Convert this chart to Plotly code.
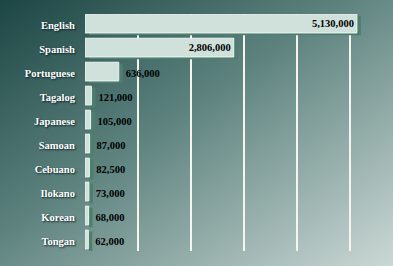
import plotly.graph_objects as go
import base64

languages = ["English", "Spanish", "Portuguese", "Tagalog", "Japanese",
             "Samoan", "Cebuano", "Ilokano", "Korean", "Tongan"]
speakers = [5130000, 2806000, 636000, 121000, 105000,
            87000, 82500, 73000, 68000, 62000]
labels = ["5,130,000", "2,806,000", "636,000", "121,000", "105,000",
          "87,000", "82,500", "73,000", "68,000", "62,000"]
label_inside = [True, True, False, False, False,
                False, False, False, False, False]

W, H = 393, 266
L, R, T, B = 85, 0, 14, 15
pw, ph = W - L - R, H - T - B
px_per_unit = 53 / 1e6          # horizontal scale: 53 px per million
depth = 4 / px_per_unit         # 3D bevel depth (styling), in data units

svg = f'''<svg xmlns="http://www.w3.org/2000/svg" width="{W}" height="{H}" viewBox="0 0 {W} {H}" preserveAspectRatio="none">
<defs><linearGradient id="g" x1="0" y1="0" x2="1" y2="1">
<stop offset="0" stop-color="#1c4644"/>
<stop offset="0.45" stop-color="#5f8480"/>
<stop offset="1" stop-color="#cbd8d5"/>
</linearGradient></defs>
<rect width="{W}" height="{H}" fill="url(#g)"/></svg>'''
bg_uri = "data:image/svg+xml;base64," + base64.b64encode(svg.encode()).decode()

serif = "Liberation Serif"
value_font = dict(family=serif, size=10.5, color="black", weight="bold")

outside_text = ["" if ins else t for t, ins in zip(labels, label_inside)]
inside_text = [t if ins else "" for t, ins in zip(labels, label_inside)]

fig = go.Figure()
# shadow / side of the 3D bar (carries the outside labels)
fig.add_trace(go.Bar(
    y=languages, x=speakers, base=depth, orientation="h",
    width=0.82, offset=-0.39,
    text=outside_text, textposition="outside", textfont=value_font,
    cliponaxis=False,
    marker=dict(color="#4e7e6e", line=dict(width=0)),
    hoverinfo="skip",
))
# bar face (carries the inside labels)
fig.add_trace(go.Bar(
    y=languages, x=speakers, orientation="h",
    text=inside_text, textposition="inside", insidetextanchor="end",
    textfont=value_font,
    width=0.78, offset=-0.45,
    marker=dict(color="#d0e1db", line=dict(color="#eef5f2", width=1)),
))

fig.update_layout(
    width=W, height=H,
    margin=dict(l=L, r=R, t=T, b=B),
    paper_bgcolor="#4f7774",
    plot_bgcolor="rgba(0,0,0,0)",
    showlegend=False,
    barmode="overlay",
    uniformtext=dict(mode=False),
    images=[dict(source=bg_uri, xref="paper", yref="paper",
                 x=-L / pw, y=1 + T / ph, sizex=W / pw, sizey=H / ph,
                 xanchor="left", yanchor="top", sizing="stretch", layer="below")],
    xaxis=dict(range=[0, (W - L) / px_per_unit], tickvals=[1e6, 2e6, 3e6, 4e6, 5e6],
               showticklabels=False, showgrid=True, gridcolor="#f6f4ee", gridwidth=1.5,
               zeroline=False, showline=False, fixedrange=True),
    yaxis=dict(range=[9.42, -0.46], showgrid=False, zeroline=False, showline=False,
               ticks="outside", ticklen=7, tickcolor="rgba(0,0,0,0)",
               tickfont=dict(family=serif, size=10.5, color="white", weight="bold",
                             shadow="1px 1px 2px #0a2020")),
)

fig.write_html("out.html")
